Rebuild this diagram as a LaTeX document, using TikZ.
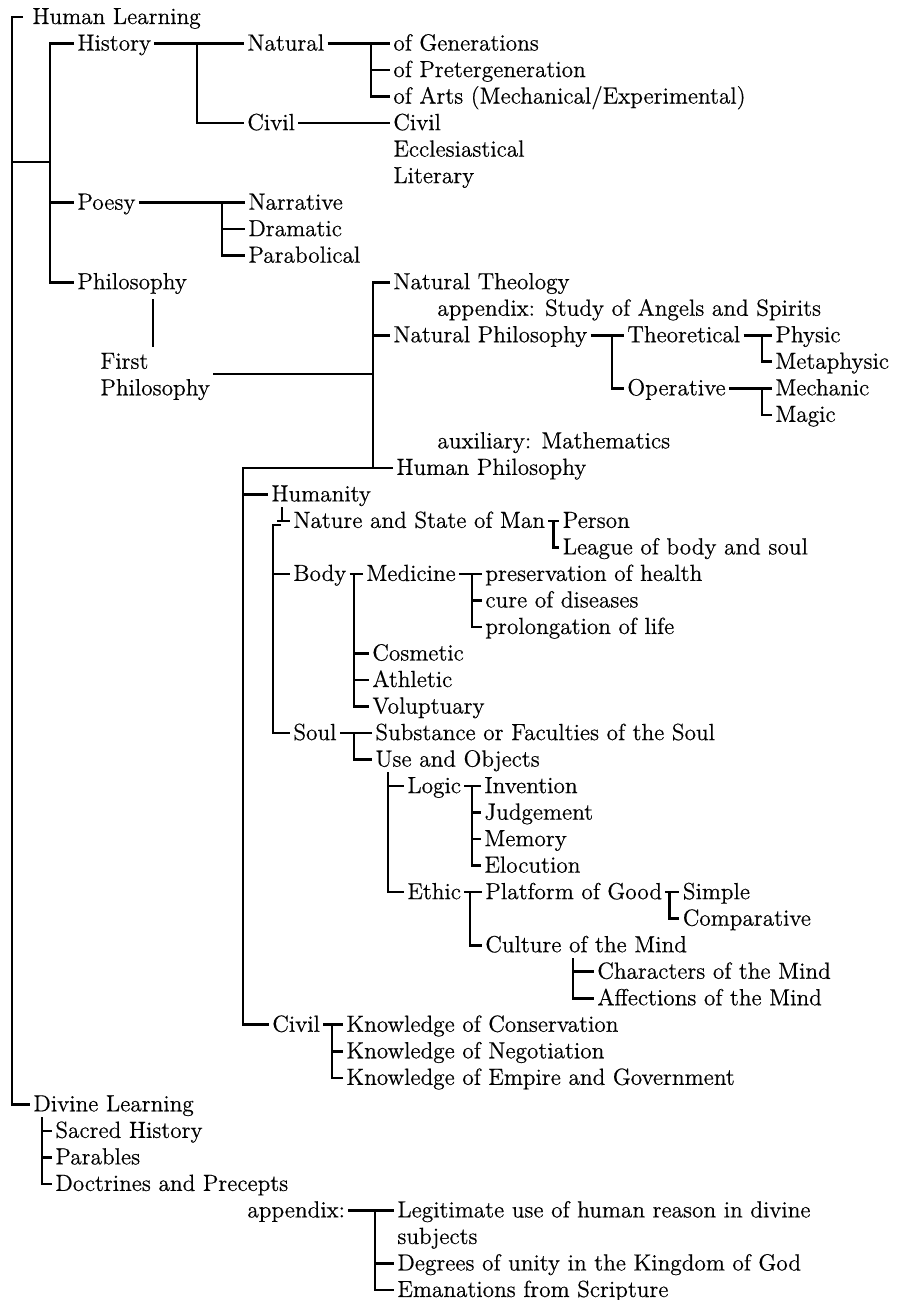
\documentclass[tikz,border=0pt]{standalone}
\usepackage{fontspec}
\setmainfont{Latin Modern Roman}[FakeBold=0.5]
\newcommand\RowY[1]{17+26.52*(#1-1)}
\tikzset{
  lbl/.style={anchor=west, inner xsep=1.5pt, inner ysep=0pt, text height=7pt, text depth=0pt,
    font=\fontsize{11.65}{13.26}\selectfont},
  br/.style={line width=1.3pt, line join=miter}
}
\begin{document}
\begin{tikzpicture}[x=0.5pt,y=-0.5pt]
\useasboundingbox[fill=white] (0,0) rectangle (906,1300);
% ---- nodes ----
\node[lbl] (hl) at (29,{\RowY{1}}) {Human Learning};
\node[lbl] (hist) at (74,{\RowY{2}}) {History};
\node[lbl] (nat) at (244,{\RowY{2}}) {Natural};
\node[lbl] (gen) at (390,{\RowY{2}}) {of Generations};
\node[lbl] (pret) at (390,{\RowY{3}}) {of Pretergeneration};
\node[lbl] (arts) at (390,{\RowY{4}}) {of Arts (Mechanical/Experimental)};
\node[lbl] (civ) at (244,{\RowY{5}}) {Civil};
\node[lbl] (civc) at (390,{\RowY{5}}) {Civil};
\node[lbl] (eccl) at (390,{\RowY{6}}) {Ecclesiastical};
\node[lbl] (lit) at (390,{\RowY{7}}) {Literary};
\node[lbl] (poesy) at (74,{\RowY{8}}) {Poesy};
\node[lbl] (narr) at (245,{\RowY{8}}) {Narrative};
\node[lbl] (dram) at (245,{\RowY{9}}) {Dramatic};
\node[lbl] (para) at (245,{\RowY{10}}) {Parabolical};
\node[lbl] (phil) at (74,{\RowY{11}}) {Philosophy};
\node[lbl] (fpa) at (97,{\RowY{14}}) {First};
\node[lbl] (fpb) at (97,{\RowY{15}}) {Philosophy};
\node[lbl] (nth) at (390,{\RowY{11}}) {Natural Theology};
\node[lbl] (appa) at (434,{\RowY{12}}) {appendix: Study of Angels and Spirits};
\node[lbl] (nph) at (390,{\RowY{13}}) {Natural Philosophy};
\node[lbl] (theo) at (624,{\RowY{13}}) {Theoretical};
\node[lbl] (phys) at (772,{\RowY{13}}) {Physic};
\node[lbl] (meta) at (772,{\RowY{14}}) {Metaphysic};
\node[lbl] (oper) at (624,{\RowY{15}}) {Operative};
\node[lbl] (mech) at (772,{\RowY{15}}) {Mechanic};
\node[lbl] (magic) at (772,{\RowY{16}}) {Magic};
\node[lbl] (aux) at (434,{\RowY{17}}) {auxiliary: Mathematics};
\node[lbl] (hph) at (393,{\RowY{18}}) {Human Philosophy};
\node[lbl] (hum) at (268,{\RowY{19}}) {Humanity};
\node[lbl] (nsm) at (290,{\RowY{20}}) {Nature and State of Man};
\node[lbl] (pers) at ([xshift=5.5pt]nsm.east) {Person};
\coordinate (lgrow) at (0,{\RowY{21}});
\node[lbl] (league) at (pers.west |- lgrow) {League of body and soul};
\node[lbl] (body) at (290,{\RowY{22}}) {Body};
\node[lbl] (med) at (363,{\RowY{22}}) {Medicine};
\node[lbl] (pres) at (482,{\RowY{22}}) {preservation of health};
\node[lbl] (cure) at (482,{\RowY{23}}) {cure of diseases};
\node[lbl] (prol) at (482,{\RowY{24}}) {prolongation of life};
\node[lbl] (cosm) at (369,{\RowY{25}}) {Cosmetic};
\node[lbl] (athl) at (369,{\RowY{26}}) {Athletic};
\node[lbl] (volu) at (369,{\RowY{27}}) {Voluptuary};
\node[lbl] (soul) at (290,{\RowY{28}}) {Soul};
\node[lbl] (subst) at (372,{\RowY{28}}) {Substance or Faculties of the Soul};
\node[lbl] (use) at (372,{\RowY{29}}) {Use and Objects};
\node[lbl] (logic) at (404,{\RowY{30}}) {Logic};
\node[lbl] (inv) at (481,{\RowY{30}}) {Invention};
\node[lbl] (judg) at (481,{\RowY{31}}) {Judgement};
\node[lbl] (mem) at (481,{\RowY{32}}) {Memory};
\node[lbl] (eloc) at (481,{\RowY{33}}) {Elocution};
\node[lbl] (ethic) at (404,{\RowY{34}}) {Ethic};
\node[lbl] (plat) at (482,{\RowY{34}}) {Platform of Good};
\node[lbl] (simp) at ([xshift=7pt]plat.east) {Simple};
\coordinate (cprow) at (0,{\RowY{35}});
\node[lbl] (comp) at (simp.west |- cprow) {Comparative};
\node[lbl] (cult) at (482,{\RowY{36}}) {Culture of the Mind};
\node[lbl] (char) at (594,{\RowY{37}}) {Characters of the Mind};
\node[lbl] (affe) at (594,{\RowY{38}}) {Affections of the Mind};
\node[lbl] (civl) at (269,{\RowY{39}}) {Civil};
\node[lbl] (kcons) at (343,{\RowY{39}}) {Knowledge of Conservation};
\node[lbl] (kneg) at (343,{\RowY{40}}) {Knowledge of Negotiation};
\node[lbl] (kemp) at (343,{\RowY{41}}) {Knowledge of Empire and Government};
\node[lbl] (div) at (30,{\RowY{42}}) {Divine Learning};
\node[lbl] (sac) at (52,{\RowY{43}}) {Sacred History};
\node[lbl] (parab) at (52,{\RowY{44}}) {Parables};
\node[lbl] (doct) at (52,{\RowY{45}}) {Doctrines and Precepts};
\node[lbl] (appx) at (244,{\RowY{46}}) {appendix:};
\node[lbl] (lega) at (394,{\RowY{46}}) {Legitimate use of human reason in divine};
\node[lbl] (legb) at (394,{\RowY{47}}) {subjects};
\node[lbl] (deg) at (394,{\RowY{48}}) {Degrees of unity in the Kingdom of God};
\node[lbl] (eman) at (394,{\RowY{49}}) {Emanations from Scripture};
% ---- connectors ----
\coordinate (m0) at (12,{\RowY{1}});
\coordinate (m2) at (23,{\RowY{1}});
\draw[br] (m2) -- (m0) |- (div.west);
\coordinate (m1) at (12,162);
\coordinate (s1) at (50,162);
\draw[br] (m1) -- (s1);
\coordinate (s0) at (50,{\RowY{2}});
\draw[br] (hist.west) -- (s0) |- (phil.west);
\draw[br] (s0 |- poesy.west) -- (poesy.west);
\draw[br] (hist.east) -- (nat.west);
\coordinate (h0) at (197,{\RowY{2}});
\draw[br] (h0) |- (civ.west);
\draw[br] (nat.east) -- (gen.west);
\coordinate (n0) at (371,{\RowY{2}});
\draw[br] (n0) |- (arts.west);
\draw[br] (n0 |- pret.west) -- (pret.west);
\draw[br] (civ.east) -- (civc.west);
\draw[br] (poesy.east) -- (narr.west);
\coordinate (p0) at (222,{\RowY{8}});
\draw[br] (p0) |- (para.west);
\draw[br] (p0 |- dram.west) -- (dram.west);
\coordinate (pb1) at (153,299);
\coordinate (pb2) at (153,347);
\draw[br] (pb1) -- (pb2);
\coordinate (fpj) at (373,374);
\draw[br] (fpb.east |- fpj) -- (fpj);
\coordinate (v0) at (373,{\RowY{11}});
\draw[br] (nth.west) -- (v0) |- (hph.west);
\draw[br] (v0 |- nph.west) -- (nph.west);
\coordinate (hp0) at (243,{\RowY{18}});
\draw[br] (v0 |- hph.west) -- (hp0) |- (civl.west);
\draw[br] (hp0 |- hum.west) -- (hum.west);
\draw[br] (nph.east) -- (theo.west);
\coordinate (np0) at (612,{\RowY{13}});
\draw[br] (np0) |- (oper.west);
\draw[br] (theo.east) -- (phys.west);
\coordinate (t0) at (762,{\RowY{13}});
\draw[br] (t0) |- (meta.west);
\draw[br] (oper.east) -- (mech.west);
\coordinate (o0) at (762,{\RowY{15}});
\draw[br] (o0) |- (magic.west);
% Humanity
\coordinate (hu0) at (273,525);
\coordinate (hu1) at (281,525);
\draw[br] (hu1) -- (hu0) |- (soul.west);
\draw[br] (hu0 |- body.west) -- (body.west);
\coordinate (ns1) at (282,507);
\draw[br] (ns1) -- (ns1 |- nsm.west);
\coordinate (ns2) at (277,{\RowY{20}});
\draw[br] (ns2) -- (nsm.west);
\draw[br] (nsm.east) -- (pers.west);
\coordinate (ns0) at ([xshift=2.5pt]nsm.east);
\draw[br] (ns0) |- (league.west);
% Body
\draw[br] (body.east) -- (med.west);
\coordinate (b0) at (354,{\RowY{22}});
\draw[br] (b0) |- (volu.west);
\draw[br] (b0 |- cosm.west) -- (cosm.west);
\draw[br] (b0 |- athl.west) -- (athl.west);
\draw[br] (med.east) -- (pres.west);
\coordinate (md0) at (472,{\RowY{22}});
\draw[br] (md0) |- (prol.west);
\draw[br] (md0 |- cure.west) -- (cure.west);
% Soul
\draw[br] (soul.east) -- (subst.west);
\coordinate (so0) at (354,{\RowY{28}});
\draw[br] (so0) |- (use.west);
\coordinate (u0) at (388,772);
\draw[br] (u0) |- (ethic.west);
\draw[br] (u0 |- logic.west) -- (logic.west);
\draw[br] (logic.east) -- (inv.west);
\coordinate (l0) at (472,{\RowY{30}});
\draw[br] (l0) |- (eloc.west);
\draw[br] (l0 |- judg.west) -- (judg.west);
\draw[br] (l0 |- mem.west) -- (mem.west);
\draw[br] (ethic.east) -- (plat.west);
\coordinate (e0) at (470,{\RowY{34}});
\draw[br] (e0) |- (cult.west);
\draw[br] (plat.east) -- (simp.west);
\coordinate (pg0) at ([xshift=2pt]plat.east);
\draw[br] (pg0) |- (comp.west);
\coordinate (c0) at (573,958);
\draw[br] (c0) |- (affe.west);
\draw[br] (c0 |- char.west) -- (char.west);
% Civil
\draw[br] (civl.east) -- (kcons.west);
\coordinate (cl0) at (332,{\RowY{39}});
\draw[br] (cl0) |- (kemp.west);
\draw[br] (cl0 |- kneg.west) -- (kneg.west);
% Divine
\coordinate (d0) at (42,1117);
\draw[br] (d0) |- (doct.west);
\draw[br] (d0 |- sac.west) -- (sac.west);
\draw[br] (d0 |- parab.west) -- (parab.west);
\draw[br] (appx.east) -- (lega.west);
\coordinate (a0) at (375,{\RowY{46}});
\draw[br] (a0) |- (eman.west);
\draw[br] (a0 |- deg.west) -- (deg.west);
\end{tikzpicture}
\end{document}
